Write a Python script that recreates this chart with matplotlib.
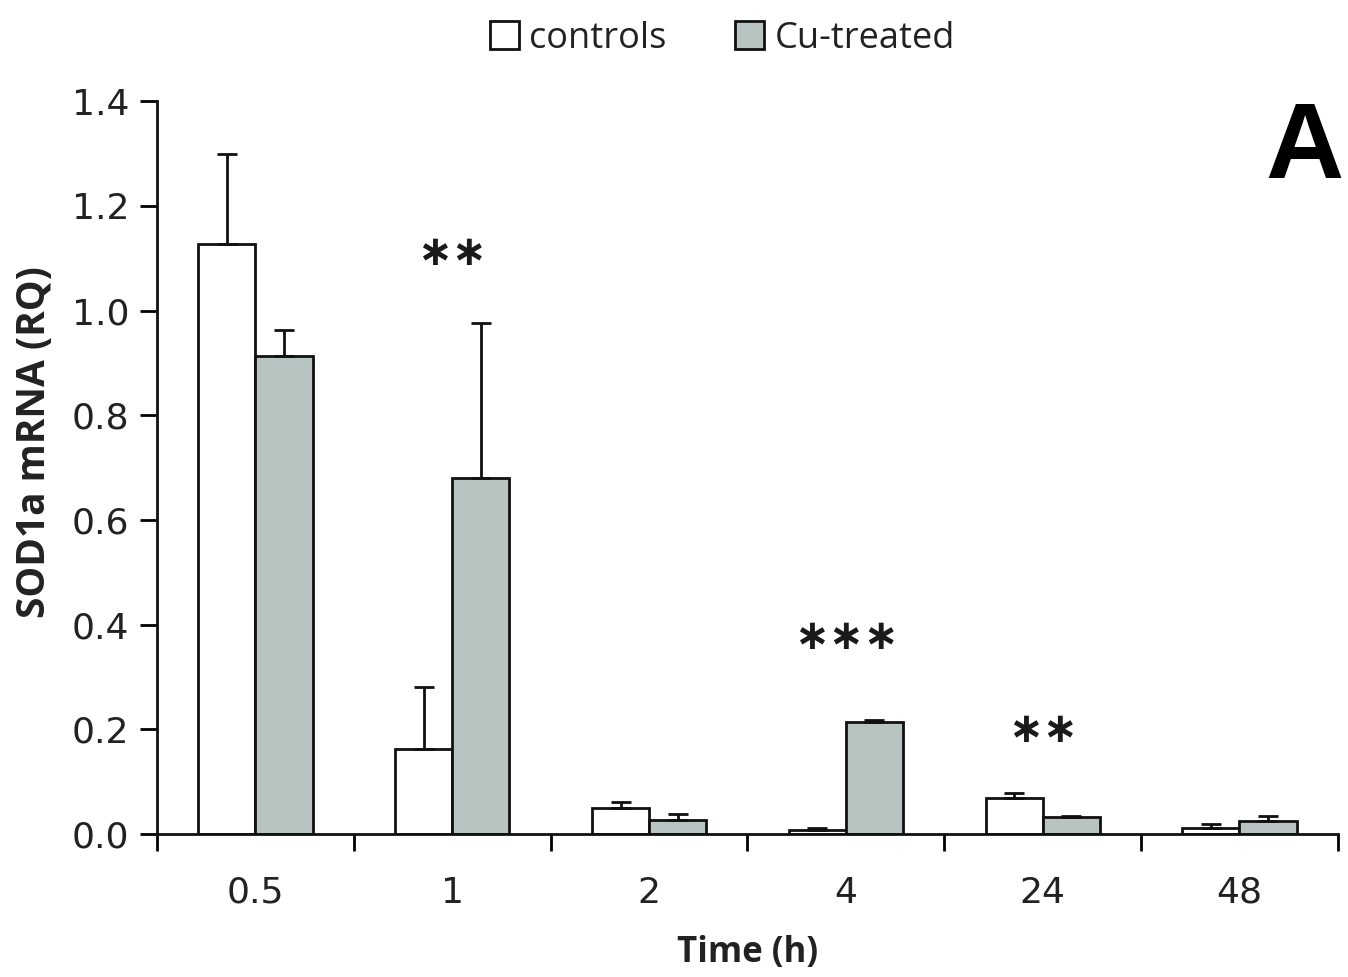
import numpy as np
import matplotlib
matplotlib.use('Agg')
import matplotlib.pyplot as plt

times = ['0.5', '1', '2', '4', '24', '48']
controls = [1.127, 0.162, 0.050, 0.007, 0.069, 0.012]
controls_err = [0.172, 0.119, 0.011, 0.004, 0.009, 0.007]
cu = [0.913, 0.680, 0.027, 0.214, 0.032, 0.025]
cu_err = [0.050, 0.296, 0.011, 0.004, 0.002, 0.009]

# significance marks: (group index, y position, label)
stars = [(1, 1.11, '\u2217\u2217'), (3, 0.376, '\u2217\u2217\u2217'), (4, 0.199, '\u2217\u2217')]

gray = '#b8c4c2'

fig = plt.figure(figsize=(13.48, 9.77), dpi=100)
ax = fig.add_axes([0.1165, 0.1464, 0.876, 0.750])

x = np.arange(len(times))
w = 0.29
ekw = dict(elinewidth=2, capthick=2, ecolor='#111111')
ax.bar(x - w/2, controls, w, color='white', edgecolor='#111111', linewidth=2,
       yerr=[np.zeros(len(controls)), controls_err], capsize=7,
       error_kw=ekw, label='controls')
ax.bar(x + w/2, cu, w, color=gray, edgecolor='#111111', linewidth=2,
       yerr=[np.zeros(len(cu)), cu_err], capsize=7,
       error_kw=ekw, label='Cu-treated')

for i, y, s in stars:
    ax.text(i, y, s, ha='center', va='center', fontsize=30, fontweight='bold',
            family='DejaVu Sans', color='#1a1a1a')

ax.set_xlim(-0.5, len(times) - 0.5)
ax.set_ylim(0, 1.4)
yt = np.arange(0, 1.41, 0.2)
ax.set_yticks(yt)
ax.set_yticklabels([f'{v:.1f}' for v in yt], fontsize=26, family='DejaVu Sans', color='#222222')

ax.set_xticks(x)
ax.set_xticklabels(times, fontsize=26, family='DejaVu Sans', color='#222222')
ax.set_xticks(np.arange(-0.5, len(times)), minor=True)
ax.tick_params(axis='x', which='major', length=0, pad=30)
ax.tick_params(axis='x', which='minor', length=12, width=2, direction='out')
ax.tick_params(axis='y', length=12, width=2, direction='out', pad=8)

for sp in ['top', 'right']:
    ax.spines[sp].set_visible(False)
for sp in ['left', 'bottom']:
    ax.spines[sp].set_linewidth(2)
    ax.spines[sp].set_color('#111111')

ax.set_xlabel('Time (h)', fontsize=25, fontweight='bold', family='Open Sans', labelpad=18, color='#222222')
ax.set_ylabel('SOD1a mRNA (RQ)', fontsize=28, fontweight='bold', family='Open Sans', color='#222222')
ax.yaxis.set_label_coords(-0.087, 0.535)

fig.text(0.997, 0.818, 'A', ha='right', va='baseline',
         fontsize=78, fontweight='bold', family='Liberation Sans')

fig.legend(loc='upper center', bbox_to_anchor=(0.536, 1.012), ncol=2, frameon=False,
           prop={'family': 'Open Sans', 'size': 26}, handlelength=0.8, handleheight=0.8,
           handletextpad=0.3, columnspacing=1.9, labelcolor='#222222')

fig.savefig('out.png', dpi=100)
